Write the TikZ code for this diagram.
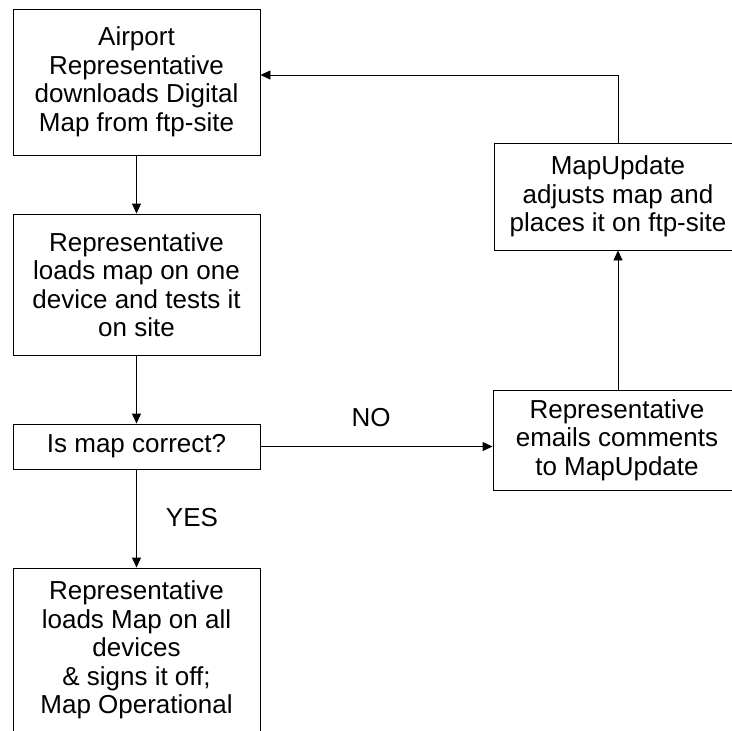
\documentclass[tikz,border=0pt]{standalone}
\usepackage{fontspec}
\setmainfont{Liberation Sans}
\usetikzlibrary{arrows.meta}
\begin{document}
\begin{tikzpicture}[x=1pt,y=-1pt,
  box/.style={draw=black, line width=0.9pt, align=center, inner sep=0pt,
    font=\fontsize{26}{28.5}\selectfont},
  lbl/.style={font=\fontsize{26}{28.5}\selectfont, inner sep=0pt},
  arr/.style={line width=0.9pt, -{Triangle[length=10pt,width=9pt]}}]
\useasboundingbox (0,0) rectangle (732,731);
\node[box, minimum width=247pt, minimum height=146pt] (b1) at (136.5,82)
  {Airport\\Representative\\downloads Digital\\Map from ftp-site};
\node[box, minimum width=247pt, minimum height=141pt] (b2) at (136.5,284.5)
  {Representative\\loads map on one\\device and tests it\\on site};
\node[box, minimum width=247pt, minimum height=45pt] (b3) at (136.5,446.5)
  {Is map correct?};
\node[box, minimum width=247pt, minimum height=190pt] (b4) at (136.5,663)
  {Representative\\loads Map on all\\devices\\\& signs it off;\\Map Operational\\\rule{0pt}{25pt}};
\node[box, minimum width=248pt, minimum height=100pt] (b5) at (617,440)
  {Representative\\emails comments\\to MapUpdate};
\node[box, minimum width=248pt, minimum height=107pt] (b6) at (618,196.5)
  {MapUpdate\\adjusts map and\\places it on ftp-site};
\coordinate (t) at (618,75);
\draw[arr] (b1.south) -- (b2.north);
\draw[arr] (b2.south) -- (b3.north);
\draw[arr] (b3.south) -- (b4.north);
\draw[arr] (b3.east) -- (b3.east -| b5.west);
\draw[arr] (b5.north -| b6.north) -- (b6.south);
\draw[arr] (b6.north) -- (t) -- (t -| b1.east);
\node[lbl] (yes) at (192,518) {YES};
\node[lbl] (no) at (371,418) {NO};
\end{tikzpicture}
\end{document}
